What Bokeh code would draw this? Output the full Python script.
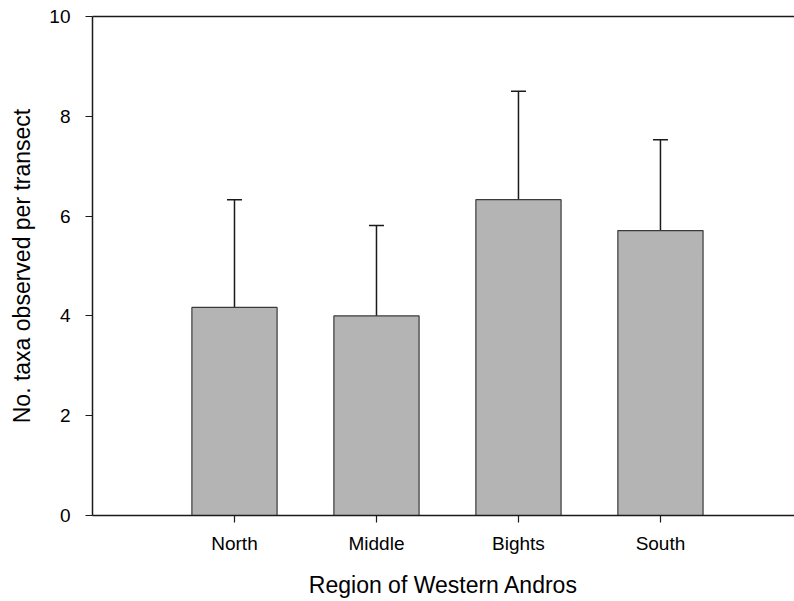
from bokeh.plotting import figure
from bokeh.models import Range1d, ColumnDataSource, Whisker, TeeHead, LinearAxis, FixedTicker
from bokeh.embed import file_html
from bokeh.resources import INLINE

categories = ["North", "Middle", "Bights", "South"]
means = [4.17, 4.00, 6.33, 5.71]
errors = [2.16, 1.81, 2.17, 1.82]
y_ticks = [0, 2, 4, 6, 8, 10]

positions = list(range(1, len(categories) + 1))
upper = [m + e for m, e in zip(means, errors)]
src = ColumnDataSource(dict(x=positions, mean=means, upper=upper))

FONT = "Liberation Sans"

p = figure(width=794, height=601, output_backend="svg", toolbar_location=None,
           x_range=Range1d(0, 4.944), y_range=Range1d(0, 10),
           min_border_left=92, min_border_right=0, min_border_top=16, min_border_bottom=86)
p.outline_line_color = None
p.grid.grid_line_color = None
p.background_fill_color = "white"
p.border_fill_color = "white"

p.vbar(x="x", top="mean", bottom=0, width=0.6, source=src,
       fill_color="#b4b4b4", line_color="#3a3a3a", line_width=1.2)

w = Whisker(base="x", upper="upper", lower="mean", source=src,
            line_color="#1a1a1a", line_width=1.5,
            upper_head=TeeHead(size=15, line_color="#1a1a1a", line_width=1.5),
            lower_head=None)
p.add_layout(w)

xa = p.xaxis[0]
xa.ticker = FixedTicker(ticks=positions)
xa.major_label_overrides = {pos: c for pos, c in zip(positions, categories)}
xa.axis_label = "Region of Western Andros"

ya = p.yaxis[0]
ya.ticker = FixedTicker(ticks=y_ticks)
ya.axis_label = "No. taxa observed per transect"

for ax in (xa, ya):
    ax.axis_line_color = "#1a1a1a"
    ax.axis_line_width = 1.5
    ax.major_tick_line_color = "#1a1a1a"
    ax.major_tick_line_width = 1.2
    ax.major_tick_in = 0
    ax.major_tick_out = 7
    ax.minor_tick_line_color = None
    ax.major_label_text_font = FONT
    ax.major_label_text_font_size = "19px"
    ax.major_label_text_color = "black"
    ax.axis_label_text_font = FONT
    ax.axis_label_text_font_size = "23px"
    ax.axis_label_text_font_style = "normal"
    ax.axis_label_text_color = "black"

xa.major_label_standoff = 10
xa.axis_label_standoff = 15
ya.major_label_standoff = 15
ya.axis_label_standoff = 11

top = LinearAxis(ticker=FixedTicker(ticks=[]), major_tick_line_color=None,
                 minor_tick_line_color=None, axis_line_color="#1a1a1a",
                 axis_line_width=1.5, major_label_standoff=0)
p.add_layout(top, "above")

open("out.html", "w").write(file_html(p, INLINE))
